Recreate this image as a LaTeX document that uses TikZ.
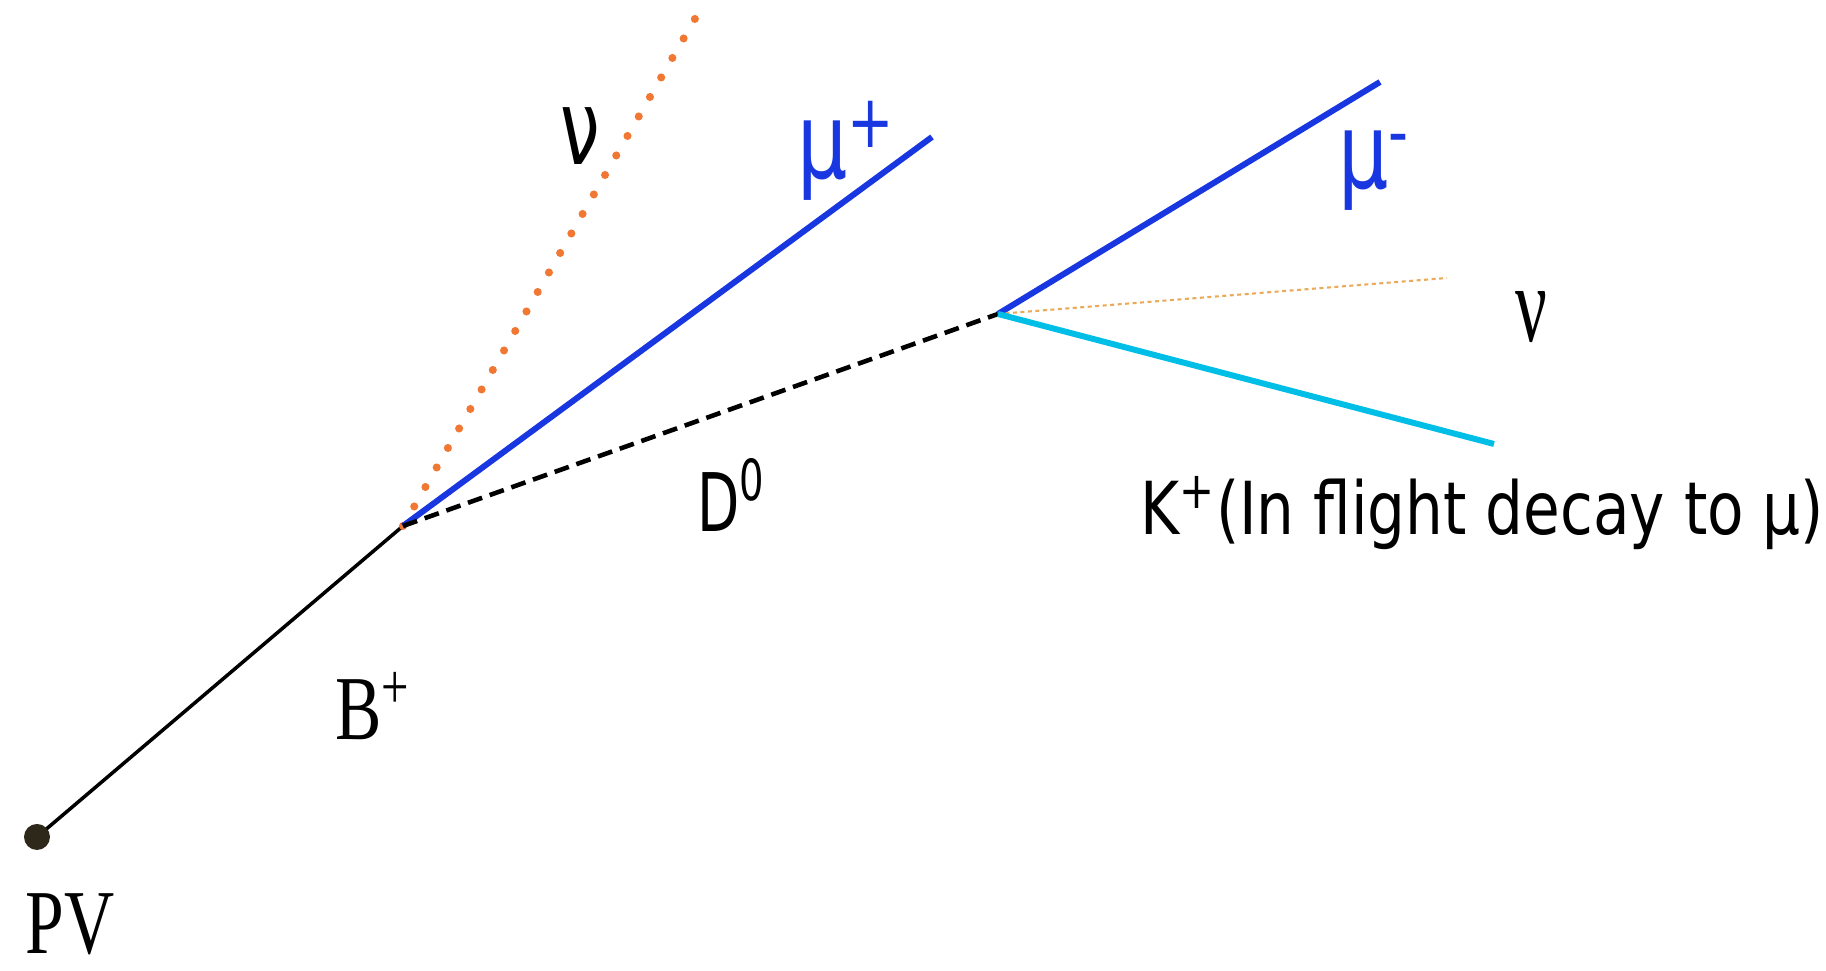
\documentclass[tikz,border=0pt]{standalone}
\usepackage{fontspec}
\setmainfont{Liberation Serif}
\newfontfamily\labelsans{DejaVu Sans}
\usetikzlibrary{positioning}
\definecolor{muonblue}{RGB}{25, 55, 225}
\definecolor{kaoncyan}{RGB}{0, 190, 230}
\definecolor{nuorange}{RGB}{240, 120, 50}
\definecolor{nutan}{RGB}{235, 170, 90}
\definecolor{pvdark}{RGB}{45, 40, 25}

\tikzset{
  lbl/.style={inner sep=0pt, anchor=base west},
  seriflbl/.style={lbl, font=\fontsize{26}{30}\selectfont, xscale=0.76},
  sanslbl/.style={lbl, font=\labelsans\fontsize{23}{27}\selectfont, xscale=0.68},
  muonlbl/.style={lbl, muonblue, font=\labelsans\fontsize{30}{34}\selectfont, xscale=0.75},
  mutrack/.style={muonblue, line width=1.7pt},
}

\begin{document}
\begin{tikzpicture}
  \useasboundingbox (0,0) rectangle (18.26,9.71);

  % ===== 顶点 =====
  \coordinate (pv)   at (0.37, 1.34);
  \coordinate (bvtx) at (4.03, 4.45);
  \coordinate (dvtx) at (9.98, 6.57);
  \coordinate (nuend)  at (6.96, 9.54);
  \coordinate (mupend) at (9.32, 8.34);
  \coordinate (mumend) at (13.80, 8.89);
  \coordinate (nutend) at (14.47, 6.93);
  \coordinate (kend)   at (14.94, 5.27);

  % ===== 径迹 =====
  \draw[black, line width=1pt] (pv) -- (bvtx);
  \draw[nuorange, line width=2.3pt, line cap=round, dash pattern=on 0pt off 0.225cm] (bvtx) -- (nuend);
  \draw[mutrack] (bvtx) -- (mupend);
  \draw[black, line width=1.3pt, dash pattern=on 0.15cm off 0.08cm] (bvtx) -- (dvtx);
  \draw[mutrack] (dvtx) -- (mumend);
  \draw[nutan, line width=0.6pt, dash pattern=on 0.04cm off 0.035cm] (dvtx) -- (nutend);
  \draw[kaoncyan, line width=1.7pt] (dvtx) -- (kend);
  \fill[pvdark] (pv) circle (0.13);

  % ===== 标签 =====
  \node[seriflbl] (pvlbl) at (0.25, 0.17) {PV};
  \node[seriflbl] (blbl) at (3.35, 2.31) {B\textsuperscript{+}};
  \node[sanslbl] (dlbl) at (6.97, 4.39) {D\textsuperscript{0}};
  \node[sanslbl, font=\labelsans\fontsize{20.8}{24}\selectfont, xscale=1.2] (klbl) at (11.40, 4.36) {K\textsuperscript{+}(In flight decay to μ)};
  \node[sanslbl, font=\labelsans\fontsize{29.6}{34}\selectfont] (nulbl) at (5.60, 8.06) {ν};
  \node[muonlbl] (muplbl) at (7.97, 7.92) {μ\textsuperscript{+}};
  \node[muonlbl] (mumlbl) at (13.38, 7.82) {μ\textsuperscript{-}};
  \node[seriflbl, font=\fontsize{31}{34}\selectfont, xscale=0.85] (nutlbl) at (15.15, 6.29) {ν};
\end{tikzpicture}
\end{document}
